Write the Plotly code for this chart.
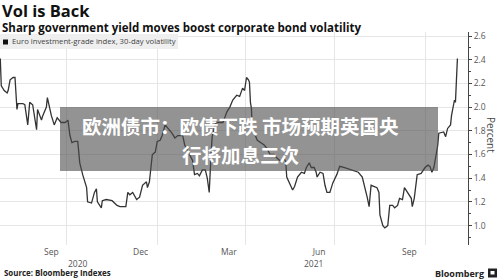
import plotly.graph_objects as go

# ---- data ----
dates = [
    "2020-07-25", "2020-07-26", "2020-07-29", "2020-08-01", "2020-08-02", "2020-08-04",
    "2020-08-07", "2020-08-09", "2020-08-11", "2020-08-12", "2020-08-17", "2020-08-19",
    "2020-08-22", "2020-08-24", "2020-08-27", "2020-08-31", "2020-09-01", "2020-09-05",
    "2020-09-06", "2020-09-10", "2020-09-11", "2020-09-15", "2020-09-18", "2020-09-21",
    "2020-09-25", "2020-09-29", "2020-10-02", "2020-10-04", "2020-10-06", "2020-10-09",
    "2020-10-12", "2020-10-14", "2020-10-17", "2020-10-21", "2020-10-22", "2020-10-26",
    "2020-10-29", "2020-10-31", "2020-11-01", "2020-11-05", "2020-11-06", "2020-11-10",
    "2020-11-16", "2020-11-21", "2020-11-24", "2020-11-30", "2020-12-02", "2020-12-04",
    "2020-12-07", "2020-12-11", "2020-12-14", "2020-12-17", "2020-12-21", "2020-12-22",
    "2020-12-24", "2020-12-27", "2020-12-30", "2021-01-01", "2021-01-04", "2021-01-06",
    "2021-01-09", "2021-01-12", "2021-01-16", "2021-01-19", "2021-01-22", "2021-01-27",
    "2021-01-29", "2021-02-06", "2021-02-08", "2021-02-11", "2021-02-13", "2021-02-16",
    "2021-02-19", "2021-02-21", "2021-02-23", "2021-02-25", "2021-02-26", "2021-02-28",
    "2021-03-02", "2021-03-06", "2021-03-09", "2021-03-13", "2021-03-16", "2021-03-19",
    "2021-03-23", "2021-03-26", "2021-03-29", "2021-03-31", "2021-04-02", "2021-04-04",
    "2021-04-05", "2021-04-06", "2021-04-07", "2021-04-08", "2021-04-10", "2021-04-13",
    "2021-04-17", "2021-04-20", "2021-04-23", "2021-04-26", "2021-04-30", "2021-05-03",
    "2021-05-06", "2021-05-08", "2021-05-10", "2021-05-12", "2021-05-13", "2021-05-15",
    "2021-05-19", "2021-05-21", "2021-05-24", "2021-05-28", "2021-05-31", "2021-06-02",
    "2021-06-05", "2021-06-07", "2021-06-10", "2021-06-12", "2021-06-13", "2021-06-16",
    "2021-06-19", "2021-06-21", "2021-06-23", "2021-06-26", "2021-06-29", "2021-07-03",
    "2021-07-06", "2021-07-11", "2021-07-18", "2021-07-25", "2021-07-29", "2021-08-01",
    "2021-08-03", "2021-08-05", "2021-08-07", "2021-08-13", "2021-08-15", "2021-08-16",
    "2021-08-19", "2021-08-21", "2021-08-24", "2021-08-26", "2021-08-29", "2021-08-31",
    "2021-09-03", "2021-09-05", "2021-09-08", "2021-09-10", "2021-09-13", "2021-09-17",
    "2021-09-18", "2021-09-20", "2021-09-23", "2021-09-27", "2021-10-01", "2021-10-04",
    "2021-10-06", "2021-10-08", "2021-10-10", "2021-10-11", "2021-10-14", "2021-10-15",
    "2021-10-18", "2021-10-20", "2021-10-22", "2021-10-24", "2021-10-27", "2021-10-28",
    "2021-10-31", "2021-11-01", "2021-11-03",
]
volatility = [
    2.41, 2.18, 2.14, 2.12, 2.14, 2.23,
    2.25, 2.25, 1.98, 2.03, 2.03, 2.02,
    1.85, 2.04, 2.02, 1.81, 1.98, 1.89,
    1.92, 2.00, 2.08, 1.93, 1.85, 1.91,
    1.87, 1.87, 1.89, 1.76, 1.70, 1.71,
    1.71, 1.53, 1.43, 1.32, 1.20, 1.19,
    1.28, 1.31, 1.20, 1.15, 1.21, 1.22,
    1.21, 1.17, 1.16, 1.16, 1.28, 1.26,
    1.28, 1.22, 1.24, 1.34, 1.37, 1.32,
    1.37, 1.60, 1.62, 1.71, 1.72, 1.76,
    1.85, 1.82, 1.78, 1.74, 1.76, 1.76,
    1.68, 1.55, 1.43, 1.44, 1.42, 1.47,
    1.47, 1.40, 1.28, 1.62, 1.75, 1.82,
    1.87, 1.87, 1.87, 1.96, 2.00, 2.06,
    2.10, 2.09, 2.16, 2.14, 2.25, 2.23,
    2.21, 2.04, 1.99, 1.79, 1.78, 1.72,
    1.70, 1.68, 1.65, 1.60, 1.60, 1.57,
    1.55, 1.54, 1.57, 1.54, 1.41, 1.37,
    1.30, 1.33, 1.41, 1.45, 1.44, 1.49,
    1.53, 1.49, 1.49, 1.45, 1.41, 1.45,
    1.44, 1.34, 1.28, 1.28, 1.36, 1.43,
    1.50, 1.49, 1.47, 1.45, 1.41, 1.32,
    1.24, 1.16, 1.34, 1.32, 1.28, 1.09,
    1.00, 0.98, 1.00, 1.17, 1.17, 1.15,
    1.17, 1.23, 1.22, 1.32, 1.28, 1.23,
    1.16, 1.23, 1.43, 1.44, 1.49, 1.51,
    1.50, 1.45, 1.49, 1.54, 1.68, 1.78,
    1.79, 1.79, 1.75, 1.82, 1.85, 1.93,
    2.06, 2.04, 2.41,
]

month_tick_dates = ["2020-09-15", "2020-12-15", "2021-03-15", "2021-06-15", "2021-09-15"]
month_tick_labels = ["Sep", "Dec", "Mar", "Jun", "Sep"]
quarter_grid_dates = ["2020-10-01", "2021-01-01", "2021-04-01", "2021-07-01", "2021-10-01"]
year_label_dates = ["2020-10-12", "2021-06-09"]
year_labels = ["2020", "2021"]
y_ticks = [1.0, 1.2, 1.4, 1.6, 1.8, 2.0, 2.2, 2.4, 2.6]

title = "Vol is Back"
subtitle = "Sharp government yield moves boost corporate bond volatility"
legend_text = "Euro investment-grade index, 30-day volatility"
overlay_lines = ["欧洲债市：欧债下跌 市场预期英国央", "行将加息三次"]
source_text = "Source: Bloomberg Indexes"

FONT = "Open Sans, Liberation Sans, Arial, sans-serif"
GRID = "#e6e6e6"

fig = go.Figure()
fig.add_trace(go.Scatter(
    x=dates, y=volatility, mode="lines",
    line=dict(color="#333333", width=1.3),
    hoverinfo="skip", showlegend=False,
))

fig.update_layout(
    width=500, height=279,
    margin=dict(l=0, r=32, t=32, b=34),
    paper_bgcolor="white", plot_bgcolor="white",
    font=dict(family=FONT, color="#555555", size=9),
    showlegend=False,
    xaxis=dict(
        type="date",
        range=["2020-07-24 17:00", "2021-11-13 19:00"],
        tickmode="array", tickvals=month_tick_dates, ticktext=month_tick_labels,
        showgrid=False, ticks="", showline=False, zeroline=False,
        tickfont=dict(size=8.5, color="#555555"),
        minor=dict(tickmode="array", tickvals=quarter_grid_dates, showgrid=True,
                   gridcolor=GRID, gridwidth=1, ticks=""),
    ),
    yaxis=dict(
        side="right",
        range=[0.836, 2.634],
        tickmode="array", tickvals=y_ticks,
        ticktext=[f"{v:.1f}" for v in y_ticks],
        showgrid=True, gridcolor=GRID, gridwidth=1,
        showline=True, linecolor="#444444", linewidth=1,
        ticks="outside", ticklen=3, tickcolor="#444444", tickwidth=1,
        zeroline=False,
        tickfont=dict(size=8.5, color="#555555"),
        minor=dict(dtick=0.1, tick0=0, ticks="outside", ticklen=2,
                   tickcolor="#444444", showgrid=False),
    ),
)

def py(pix):
    # convert a pixel row to paper coordinates (plot area rows 32..245)
    return (245 - pix) / 213.0

def px(pix):
    return pix / 468.0

shapes = []
# legend band
shapes.append(dict(type="rect", xref="paper", yref="paper",
                   x0=px(0), x1=px(178), y0=py(49), y1=py(34),
                   fillcolor="#efefef", line=dict(width=0), layer="above"))
shapes.append(dict(type="rect", xref="paper", yref="paper",
                   x0=px(3), x1=px(8), y0=py(44.5), y1=py(39.5),
                   fillcolor="#111111", line=dict(width=0), layer="above"))
# overlay caption box
shapes.append(dict(type="rect", xref="paper", yref="paper",
                   x0=px(60), x1=px(438), y0=py(171), y1=py(107),
                   fillcolor="rgba(75,75,75,0.6)", line=dict(width=0), layer="above"))
# Bloomberg logo square
shapes.append(dict(type="rect", xref="paper", yref="paper",
                   x0=px(488), x1=px(497), y0=py(277.5), y1=py(268.5),
                   fillcolor="#222222", line=dict(width=0), layer="above"))
shapes.append(dict(type="rect", xref="paper", yref="paper",
                   x0=px(490.5), x1=px(494.5), y0=py(274.5), y1=py(271),
                   fillcolor="white", line=dict(width=0), layer="above"))
fig.update_layout(shapes=shapes)

ann = []
ann.append(dict(text=f"<b>{title}</b>", xref="paper", yref="paper",
                x=px(0), y=py(10), xanchor="left", yanchor="middle",
                showarrow=False, font=dict(size=16.5, color="#111111", family=FONT)))
ann.append(dict(text=f"<b>{subtitle}</b>", xref="paper", yref="paper",
                x=px(0), y=py(28), xanchor="left", yanchor="middle",
                showarrow=False, font=dict(size=11.5, color="#111111", family=FONT)))
ann.append(dict(text=legend_text, xref="paper", yref="paper",
                x=px(10), y=py(41.5), xanchor="left", yanchor="middle",
                showarrow=False, font=dict(size=7.7, color="#444444", family=FONT)))
for line_text, ypix in zip(overlay_lines, [125.5, 154.5]):
    ann.append(dict(text=f"<b>{line_text}</b>", xref="paper", yref="paper",
                    x=px(241), y=py(ypix), xanchor="center", yanchor="middle",
                    showarrow=False,
                    font=dict(size=19.5, color="white", family="Noto Sans CJK SC")))
ann.append(dict(text="Percent", xref="paper", yref="paper",
                x=px(491), y=py(135), xanchor="center", yanchor="middle",
                textangle=90, showarrow=False,
                font=dict(size=10, color="#444444", family=FONT)))
for d, lab in zip(year_label_dates, year_labels):
    ann.append(dict(text=lab, xref="x", yref="paper", x=d, y=py(263),
                    xanchor="center", yanchor="middle", showarrow=False,
                    font=dict(size=8.5, color="#555555", family=FONT)))
ann.append(dict(text=f"<b>{source_text}</b>", xref="paper", yref="paper",
                x=px(2), y=py(273), xanchor="left", yanchor="middle",
                showarrow=False, font=dict(size=7.9, color="#222222", family=FONT)))
ann.append(dict(text="<b>Bloomberg</b>", xref="paper", yref="paper",
                x=px(486), y=py(273), xanchor="right", yanchor="middle",
                showarrow=False, font=dict(size=9, color="#222222", family=FONT)))
fig.update_layout(annotations=ann)

fig.write_html("out.html")
